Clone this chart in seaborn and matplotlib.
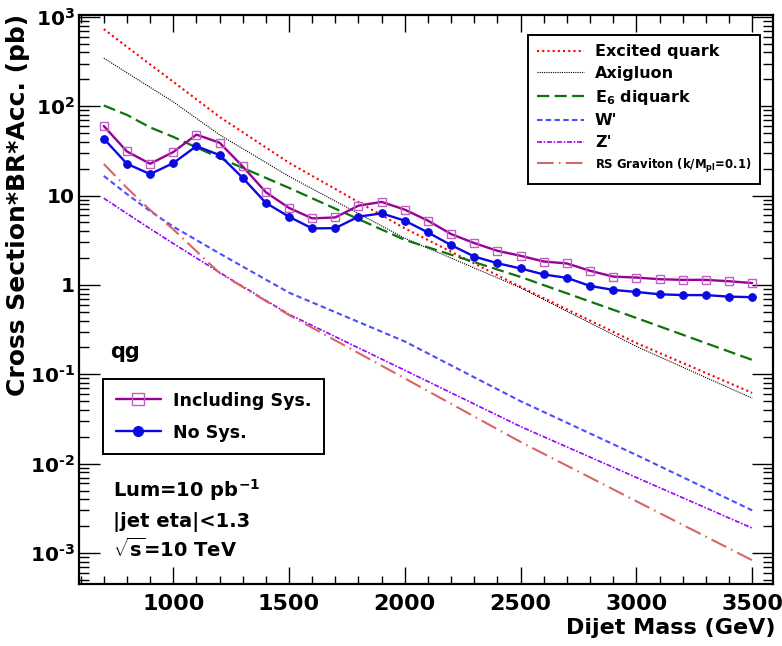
import numpy as np
import pandas as pd
import matplotlib
matplotlib.use("Agg")
import matplotlib.pyplot as plt
from matplotlib.ticker import FixedLocator, MultipleLocator, NullFormatter
from matplotlib.lines import Line2D
import seaborn as sns

# ---------------- data ----------------
mass = [700, 800, 900, 1000, 1100, 1200, 1300, 1400, 1500, 1600, 1700, 1800, 1900,
        2000, 2100, 2200, 2300, 2400, 2500, 2600, 2700, 2800, 2900, 3000, 3100,
        3200, 3300, 3400, 3500]
incl_sys = [60.1, 31.2, 22.7, 30.7, 48.1, 39.1, 21.2, 10.9, 7.28, 5.56, 5.7, 7.72, 8.5,
            6.96, 5.24, 3.71, 2.94, 2.41, 2.12, 1.83, 1.74, 1.44, 1.24, 1.21, 1.16,
            1.14, 1.14, 1.10, 1.05]
no_sys = [43.4, 22.7, 17.4, 23.1, 35.8, 28.4, 15.8, 8.28, 5.8, 4.29, 4.33, 5.81, 6.33,
          5.24, 3.87, 2.79, 2.08, 1.75, 1.53, 1.31, 1.20, 0.975, 0.88, 0.835, 0.786,
          0.77, 0.77, 0.74, 0.73]

theory_mass = [700, 800, 900, 1000, 1200, 1500, 2000, 2500, 3000, 3500]
excited_quark = [730, 463, 294, 188, 76, 23.3, 4.3, 0.95, 0.224, 0.062]
axigluon = [346, 237, 163, 112, 47.9, 16.4, 3.33, 0.93, 0.205, 0.054]
e6_diquark = [102, 80, 58, 45.4, 26.4, 12.2, 3.19, 1.23, 0.427, 0.145]
w_prime = [16.6, 10.4, 6.7, 4.5, 2.25, 0.82, 0.233, 0.050, 0.0125, 0.0030]
z_prime = [9.35, 6.3, 4.26, 2.91, 1.38, 0.469, 0.111, 0.026, 0.0070, 0.0019]
rs_graviton = [22.6, 12.2, 6.9, 4.2, 1.36, 0.46, 0.090, 0.0175, 0.0038, 0.00083]

ytick_vals = [1e-3, 1e-2, 1e-1, 1, 10, 1e2, 1e3]
ytick_labels = [r"$10^{\text{-}3}$", r"$10^{\text{-}2}$", r"$10^{\text{-}1}$", "1", "10",
                r"$10^{2}$", r"$10^{3}$"]
xtick_vals = [1000, 1500, 2000, 2500, 3000, 3500]

# ---------------- style ----------------
sns.set_theme(style="ticks")
plt.rcParams["font.family"] = ["DejaVu Sans"]
plt.rcParams["font.weight"] = "bold"
plt.rcParams["text.color"] = "black"
plt.rcParams["axes.labelcolor"] = "black"
plt.rcParams["xtick.color"] = "black"
plt.rcParams["ytick.color"] = "black"
plt.rcParams["mathtext.fontset"] = "custom"
plt.rcParams["mathtext.rm"] = "DejaVu Sans:bold"
plt.rcParams["mathtext.it"] = "DejaVu Sans:bold"
plt.rcParams["mathtext.bf"] = "DejaVu Sans:bold"
plt.rcParams["mathtext.sf"] = "DejaVu Sans:bold"
plt.rcParams["mathtext.default"] = "rm"

W, H = 782, 646
fig = plt.figure(figsize=(W / 100, H / 100), dpi=100)
fig.patch.set_facecolor("white")
ax = fig.add_axes([79 / W, 1 - 584 / H, (773 - 79) / W, (584 - 15) / H])
ax.set_facecolor("white")

th = pd.DataFrame({"mass": theory_mass, "q": excited_quark, "a": axigluon,
                   "e6": e6_diquark, "w": w_prime, "z": z_prime, "rs": rs_graviton})
dat = pd.DataFrame({"mass": mass, "incl": incl_sys, "nosys": no_sys})

styles = {
    "q": dict(color="#ff0000", lw=1.5, ls=(0, (1, 1.5)), label="Excited quark"),
    "a": dict(color="#000000", lw=0.8, ls=(0, (1, 1)), label="Axigluon"),
    "e6": dict(color="#0d730d", lw=1.6, ls=(0, (5.5, 2.4)), label=r"E$_{6}$ diquark"),
    "w": dict(color="#4d4dff", lw=1.5, ls=(0, (2.6, 1.6)), label="W'"),
    "z": dict(color="#9a00ff", lw=1.2, ls=(0, (3, 1, 1, 1)), label="Z'"),
    "rs": dict(color="#d96666", lw=1.5, ls=(0, (8, 2.5, 0.8, 2.5)), label=r"RS Graviton (k/M$_{\rm pl}$=0.1)"),
}
handles1 = []
for key in ["q", "a", "e6", "w", "z", "rs"]:
    s = styles[key]
    sns.lineplot(data=th, x="mass", y=key, ax=ax, color=s["color"], linewidth=s["lw"],
                 linestyle=s["ls"], estimator=None, legend=False)
    handles1.append(Line2D([], [], color=s["color"], lw=s["lw"], ls=s["ls"], label=s["label"]))

mag_line, mag_mark = "#990099", "#c060c0"
blue = "#0a0ae0"
sns.lineplot(data=dat, x="mass", y="incl", ax=ax, color=mag_line, linewidth=1.7,
             marker="s", markersize=6.2, markerfacecolor="none", markeredgecolor=mag_mark,
             markeredgewidth=1.0, estimator=None, legend=False)
sns.lineplot(data=dat, x="mass", y="nosys", ax=ax, color=blue, linewidth=1.7,
             marker="o", markersize=5.5, markerfacecolor=blue, markeredgecolor=blue,
             estimator=None, legend=False)

ax.set_yscale("log")
ax.set_xlim(593, 3590)
ax.set_ylim(4.5e-4, 1.05e3)

ax.set_yticks(ytick_vals)
ax.set_yticklabels(ytick_labels)
minor = [m * 10.0 ** e for e in range(-4, 4) for m in range(2, 10)]
ax.yaxis.set_minor_locator(FixedLocator(minor))
ax.yaxis.set_minor_formatter(NullFormatter())
ax.set_xticks(xtick_vals)
ax.set_xticklabels([str(v) for v in xtick_vals])
ax.xaxis.set_minor_locator(MultipleLocator(100))

ax.tick_params(axis="both", which="both", direction="in", top=True, right=True,
               colors="black", width=1.0)
ax.tick_params(axis="y", which="major", length=15, labelsize=14.5, pad=3)
ax.tick_params(axis="y", which="minor", length=7.5)
ax.tick_params(axis="x", which="major", length=12, labelsize=16, pad=7)
ax.tick_params(axis="x", which="minor", length=6)
for lab in ax.get_xticklabels() + ax.get_yticklabels():
    lab.set_fontweight("bold")
for sp in ax.spines.values():
    sp.set_visible(True)
    sp.set_linewidth(1.6)
    sp.set_color("black")

ax.set_xlabel("")
ax.set_ylabel("")
fig.text(775 / W, 1 - 628 / H, "Dijet Mass (GeV)", ha="right", va="center",
         fontsize=16, fontweight="bold")
fig.text(18 / W, 1 - 14 / H, "Cross Section*BR*Acc. (pb)", ha="center", va="top",
         rotation=90, fontsize=18, fontweight="bold")

leg1 = ax.legend(handles=handles1, loc="upper left",
                 bbox_to_anchor=(528 / W, 1 - 35 / H), bbox_transform=fig.transFigure,
                 frameon=True, fancybox=False, edgecolor="black", framealpha=1,
                 fontsize=11.5, handlelength=2.9, labelspacing=0.42, borderpad=0.58,
                 borderaxespad=0, handletextpad=0.7)
leg1.get_frame().set_linewidth(1.4)
for t in leg1.get_texts():
    t.set_fontweight("bold")
leg1.get_texts()[-1].set_fontsize(8.4)
ax.add_artist(leg1)

handles2 = [
    Line2D([], [], color=mag_line, lw=1.7, marker="s", markersize=8, markerfacecolor="none",
           markeredgecolor=mag_mark, markeredgewidth=1.0, label="Including Sys."),
    Line2D([], [], color=blue, lw=1.7, marker="o", markersize=7,
           markerfacecolor=blue, markeredgecolor=blue, label="No Sys."),
]
leg2 = ax.legend(handles=handles2, loc="upper left",
                 bbox_to_anchor=(103 / W, 1 - 379 / H), bbox_transform=fig.transFigure,
                 frameon=True, fancybox=False, edgecolor="black", framealpha=1,
                 fontsize=12.6, handlelength=2.6, labelspacing=0.8, borderpad=0.72,
                 borderaxespad=0, handletextpad=0.7)
leg2.get_frame().set_linewidth(1.4)
for t in leg2.get_texts():
    t.set_fontweight("bold")

fig.text(110 / W, 1 - 358 / H, "qg", fontsize=15, fontweight="bold", va="baseline")
fig.text(113 / W, 1 - 497 / H, r"Lum=10 pb$^{-1}$", fontsize=14, fontweight="bold", va="baseline")
fig.text(113 / W, 1 - 527 / H, "|jet eta|<1.3", fontsize=14, fontweight="bold", va="baseline")
fig.text(113 / W, 1 - 557 / H, r"$\sqrt{\rm s}$=10 TeV", fontsize=14, fontweight="bold", va="baseline")

fig.savefig("out.png", dpi=100, facecolor="white")
